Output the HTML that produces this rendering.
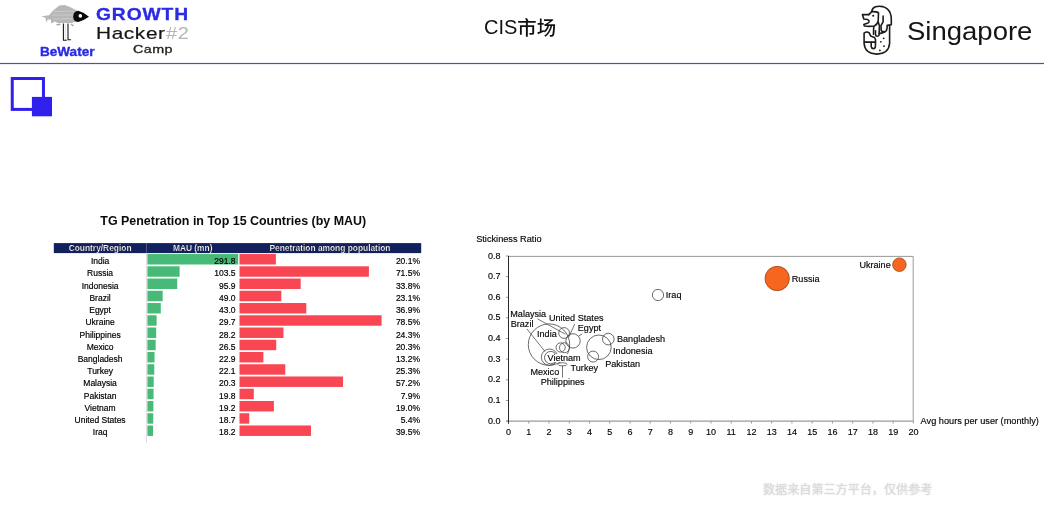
<!DOCTYPE html>
<html lang="zh"><head><meta charset="utf-8"><title>CIS市场</title>
<style>
html,body{margin:0;padding:0;background:#fff;}
body{width:1044px;height:513px;position:relative;overflow:hidden;font-family:"Liberation Sans","Noto Sans CJK SC",sans-serif;color:#111;}
.abs{position:absolute;white-space:nowrap;line-height:1;}
.t{position:absolute;white-space:nowrap;line-height:12px;font-size:8.5px;color:#000;-webkit-text-stroke:0.18px #000;}
.s{position:absolute;white-space:nowrap;line-height:10px;font-size:9px;color:#050505;-webkit-text-stroke:0.15px #050505;}
.bg{background:#fff;}
svg{position:absolute;left:0;top:0;}
svg text{font-family:"Liberation Sans","Noto Sans CJK SC",sans-serif;}
</style></head><body>

<svg width="1044" height="513" viewBox="0 0 1044 513">
<rect x="0" y="62.9" width="1044" height="1.2" fill="#574ca8"/>
<rect x="12.25" y="78.5" width="31.2" height="30.9" fill="none" stroke="#3020ee" stroke-width="3"/>
<rect x="31.9" y="96.9" width="20.1" height="19.4" fill="#3020ee"/>
<g id="fish">
<path d="M41.4 16.3 L49.1 15.3 L51.7 12 L56.4 7.7 L59.4 5.6 L64.6 5.1 L70 7 L74.9 9.4 L77.5 11.1 L77 21.5 L74 22 L72.3 22.9 L57.7 22.9 L54.7 21.4 L51.3 23.4 L50.8 19.5 L47.9 19.6 L46.1 22.5 L45.6 18 Z" fill="#b7b7b7"/>
<path d="M54 11.6 L75 11.2 M52 15.2 L75 15 M53 19 L75 18.7" stroke="#cfcfcf" stroke-width="0.8" fill="none"/>
<path d="M56.5 24.8 L60.5 24.2 M71 24 L73.5 26" stroke="#a8a8a8" stroke-width="1.6" fill="none"/>
<path d="M73.2 16.5 Q73.2 11.2 78.3 10.7 Q83.5 12 89 16.7 Q84 20.3 78.3 21.9 Q73.2 22 73.2 16.5 Z" fill="#0a0a0a"/>
<circle cx="80.3" cy="15.9" r="1.8" fill="#fff"/>
<path d="M65.2 24 V40" stroke="#ddd" stroke-width="1" fill="none"/>
<path d="M63.4 23.5 V40.2 H66.8 M68 23.5 V39.8 H71" stroke="#1a1a1a" stroke-width="1.1" fill="none"/>
</g>
<g fill="none" stroke="#1c1c1c" stroke-width="1.6" stroke-linecap="round" stroke-linejoin="round">
<path d="M868.8 14.6 L862.4 14.6 L863.8 19 L867.4 19.5 Q869.3 20.3 869.1 21.3 Q869 22.6 867.9 23.1 L863.8 24.5 L864.4 26 Q869 26.8 874.4 26 Q877.3 24.6 878.2 21 L878.5 12.8 Q877 11.5 872 11.6"/>
<path d="M868.8 14.6 L871.7 11.6 Q872.2 8 875.5 6.8 Q879 5.9 882.5 6.6 Q887.5 8 890 12.5 Q891.4 15.5 891.3 19.5 L891.3 24.8 L887.2 25.4 L887 28.5 Q886.6 31.6 884.3 31.9 Q881.6 31.8 881.1 30 L881.1 27 Q880.6 26 881.4 24.8 L883.1 21.9 L883.1 16"/>
<path d="M873.7 26.5 L873.5 34.2"/>
<path d="M878.3 22 Q880 26 879.3 29.5 L879.1 34.8 Q878.8 36.3 877.3 36.3 Q875.6 36.2 875.5 34.6 L875.5 30.7"/>
<path d="M879.3 33.6 Q882.5 33.2 884.8 31.8"/>
<path d="M889.6 25.4 L889.6 43.5 Q888.8 53.6 876.8 54.1 Q864.9 53.6 864.1 43.5 L864.1 33.2 Q866.5 31.2 869.1 32.7 L870.6 35.9 L874.4 37.4 L875.5 39.5 L875.5 42.1 L864.1 42.1"/>
<path d="M871.2 42.4 L871.2 46.5 Q871.6 48.6 873.3 48.6 Q875.2 48.6 875.4 46.6 L875.5 42.4"/>
</g>
<g fill="#1c1c1c">
<circle cx="873.2" cy="15.7" r="1.05"/>
<circle cx="883.7" cy="38.3" r="0.9"/><circle cx="880.8" cy="41.8" r="0.9"/><circle cx="884" cy="46.2" r="0.9"/><circle cx="879.9" cy="50.4" r="0.9"/>
</g>
<rect x="53.8" y="243.1" width="367.4" height="10" fill="#12205e"/>
<rect x="146.2" y="243.1" width="0.7" height="10" fill="#6872a6"/>
<rect x="146.3" y="253" width="0.7" height="190" fill="#d2d2d2"/>
<rect x="147.4" y="254.05" width="90.80" height="10.45" fill="#48ba77"/>
<rect x="239.5" y="254.05" width="36.38" height="10.45" fill="#f84753"/>
<rect x="147.4" y="266.30" width="32.21" height="10.45" fill="#48ba77"/>
<rect x="239.5" y="266.30" width="129.41" height="10.45" fill="#f84753"/>
<rect x="147.4" y="278.54" width="29.84" height="10.45" fill="#48ba77"/>
<rect x="239.5" y="278.54" width="61.18" height="10.45" fill="#f84753"/>
<rect x="147.4" y="290.79" width="15.25" height="10.45" fill="#48ba77"/>
<rect x="239.5" y="290.79" width="41.81" height="10.45" fill="#f84753"/>
<rect x="147.4" y="303.03" width="13.38" height="10.45" fill="#48ba77"/>
<rect x="239.5" y="303.03" width="66.79" height="10.45" fill="#f84753"/>
<rect x="147.4" y="315.27" width="9.24" height="10.45" fill="#48ba77"/>
<rect x="239.5" y="315.27" width="142.09" height="10.45" fill="#f84753"/>
<rect x="147.4" y="327.52" width="8.78" height="10.45" fill="#48ba77"/>
<rect x="239.5" y="327.52" width="43.98" height="10.45" fill="#f84753"/>
<rect x="147.4" y="339.76" width="8.25" height="10.45" fill="#48ba77"/>
<rect x="239.5" y="339.76" width="36.74" height="10.45" fill="#f84753"/>
<rect x="147.4" y="352.01" width="7.13" height="10.45" fill="#48ba77"/>
<rect x="239.5" y="352.01" width="23.89" height="10.45" fill="#f84753"/>
<rect x="147.4" y="364.25" width="6.88" height="10.45" fill="#48ba77"/>
<rect x="239.5" y="364.25" width="45.79" height="10.45" fill="#f84753"/>
<rect x="147.4" y="376.50" width="6.32" height="10.45" fill="#48ba77"/>
<rect x="239.5" y="376.50" width="103.53" height="10.45" fill="#f84753"/>
<rect x="147.4" y="388.75" width="6.16" height="10.45" fill="#48ba77"/>
<rect x="239.5" y="388.75" width="14.30" height="10.45" fill="#f84753"/>
<rect x="147.4" y="400.99" width="5.97" height="10.45" fill="#48ba77"/>
<rect x="239.5" y="400.99" width="34.39" height="10.45" fill="#f84753"/>
<rect x="147.4" y="413.24" width="5.82" height="10.45" fill="#48ba77"/>
<rect x="239.5" y="413.24" width="9.77" height="10.45" fill="#f84753"/>
<rect x="147.4" y="425.48" width="5.66" height="10.45" fill="#48ba77"/>
<rect x="239.5" y="425.48" width="71.50" height="10.45" fill="#f84753"/>
<path d="M508.5 256.4 H913.2 V421.1" fill="none" stroke="#9a9a9a" stroke-width="1"/>
<path d="M506.0 421.1 H913.4" fill="none" stroke="#9a9a9a" stroke-width="1.1"/>
<path d="M508.50 421.1 v2.4" stroke="#9a9a9a" stroke-width="1" fill="none"/>
<path d="M528.75 421.1 v2.4" stroke="#9a9a9a" stroke-width="1" fill="none"/>
<path d="M548.99 421.1 v2.4" stroke="#9a9a9a" stroke-width="1" fill="none"/>
<path d="M569.24 421.1 v2.4" stroke="#9a9a9a" stroke-width="1" fill="none"/>
<path d="M589.48 421.1 v2.4" stroke="#9a9a9a" stroke-width="1" fill="none"/>
<path d="M609.73 421.1 v2.4" stroke="#9a9a9a" stroke-width="1" fill="none"/>
<path d="M629.97 421.1 v2.4" stroke="#9a9a9a" stroke-width="1" fill="none"/>
<path d="M650.22 421.1 v2.4" stroke="#9a9a9a" stroke-width="1" fill="none"/>
<path d="M670.46 421.1 v2.4" stroke="#9a9a9a" stroke-width="1" fill="none"/>
<path d="M690.71 421.1 v2.4" stroke="#9a9a9a" stroke-width="1" fill="none"/>
<path d="M710.95 421.1 v2.4" stroke="#9a9a9a" stroke-width="1" fill="none"/>
<path d="M731.20 421.1 v2.4" stroke="#9a9a9a" stroke-width="1" fill="none"/>
<path d="M751.44 421.1 v2.4" stroke="#9a9a9a" stroke-width="1" fill="none"/>
<path d="M771.68 421.1 v2.4" stroke="#9a9a9a" stroke-width="1" fill="none"/>
<path d="M791.93 421.1 v2.4" stroke="#9a9a9a" stroke-width="1" fill="none"/>
<path d="M812.17 421.1 v2.4" stroke="#9a9a9a" stroke-width="1" fill="none"/>
<path d="M832.42 421.1 v2.4" stroke="#9a9a9a" stroke-width="1" fill="none"/>
<path d="M852.66 421.1 v2.4" stroke="#9a9a9a" stroke-width="1" fill="none"/>
<path d="M872.91 421.1 v2.4" stroke="#9a9a9a" stroke-width="1" fill="none"/>
<path d="M893.15 421.1 v2.4" stroke="#9a9a9a" stroke-width="1" fill="none"/>
<path d="M913.40 421.1 v2.4" stroke="#9a9a9a" stroke-width="1" fill="none"/>
<path d="M508.5 421.10 h-2.6" stroke="#9a9a9a" stroke-width="1" fill="none"/>
<path d="M508.5 400.46 h-2.6" stroke="#9a9a9a" stroke-width="1" fill="none"/>
<path d="M508.5 379.82 h-2.6" stroke="#9a9a9a" stroke-width="1" fill="none"/>
<path d="M508.5 359.18 h-2.6" stroke="#9a9a9a" stroke-width="1" fill="none"/>
<path d="M508.5 338.54 h-2.6" stroke="#9a9a9a" stroke-width="1" fill="none"/>
<path d="M508.5 317.90 h-2.6" stroke="#9a9a9a" stroke-width="1" fill="none"/>
<path d="M508.5 297.26 h-2.6" stroke="#9a9a9a" stroke-width="1" fill="none"/>
<path d="M508.5 276.62 h-2.6" stroke="#9a9a9a" stroke-width="1" fill="none"/>
<path d="M508.5 255.98 h-2.6" stroke="#9a9a9a" stroke-width="1" fill="none"/>
<path d="M508.5 255.9 V423.70000000000005" fill="none" stroke="#2a2a2a" stroke-width="1"/>
<ellipse cx="562.5" cy="364.3" rx="4.6" ry="1.6" fill="#fff" stroke="#3a3a3a" stroke-width="0.7"/>
<circle cx="549" cy="344.6" r="20.7" fill="none" stroke="#3a3a3a" stroke-width="0.75"/>
<circle cx="564.1" cy="333.0" r="5.4" fill="none" stroke="#3a3a3a" stroke-width="0.75"/>
<circle cx="573.0" cy="340.9" r="7.2" fill="none" stroke="#3a3a3a" stroke-width="0.75"/>
<circle cx="560.6" cy="347.5" r="4.6" fill="none" stroke="#3a3a3a" stroke-width="0.75"/>
<circle cx="564.5" cy="347.7" r="5.0" fill="none" stroke="#3a3a3a" stroke-width="0.75"/>
<circle cx="549.5" cy="357.2" r="8.2" fill="none" stroke="#3a3a3a" stroke-width="0.75"/>
<circle cx="550.7" cy="357.6" r="6.2" fill="none" stroke="#3a3a3a" stroke-width="0.75"/>
<circle cx="598.9" cy="347.3" r="12.3" fill="none" stroke="#3a3a3a" stroke-width="0.75"/>
<circle cx="608.3" cy="339.1" r="5.8" fill="none" stroke="#3a3a3a" stroke-width="0.75"/>
<circle cx="593.1" cy="356.6" r="5.5" fill="none" stroke="#3a3a3a" stroke-width="0.75"/>
<circle cx="658" cy="295" r="5.6" fill="none" stroke="#3a3a3a" stroke-width="0.75"/>
<circle cx="777.2" cy="278.5" r="12.2" fill="#f6661e" stroke="#8a3a10" stroke-width="0.7"/>
<circle cx="899.4" cy="264.7" r="6.8" fill="#f6661e" stroke="#8a3a10" stroke-width="0.7"/>
<path d="M537.5 318.9 L565.5 334.2 M526.9 328.9 L545 351.5 M574.7 324.1 L569 336.8 M582.2 333.8 L578.7 336 M562.5 365.5 V377.6" stroke="#3a3a3a" stroke-width="0.7" fill="none"/>
</svg>
<div class="abs" style="left:39.60px;top:44.98px;font-size:11.9px;line-height:14px;transform:scaleX(1.14);transform-origin:0 0;font-weight:bold;color:#2b2be4;-webkit-text-stroke:0.35px #2b2be4;">BeWater</div>
<div class="abs" style="left:95.60px;top:4.32px;font-size:16.4px;line-height:20px;transform:scaleX(1.175);transform-origin:0 0;font-weight:bold;color:#2b2be4;letter-spacing:0.75px;-webkit-text-stroke:0.3px #2b2be4;">GROWTH</div>
<div class="abs" style="left:96.00px;top:24.11px;font-size:17px;line-height:20px;transform:scaleX(1.225);transform-origin:0 0;color:#151515;letter-spacing:0.5px;-webkit-text-stroke:0.2px #151515;">Hacker</div>
<div class="abs" style="left:165.60px;top:24.25px;font-size:16.6px;line-height:20px;transform:scaleX(1.2);transform-origin:0 0;color:#b4b4b4;letter-spacing:0.6px;">#2</div>
<div class="abs" style="left:133.40px;top:43.22px;font-size:11.2px;line-height:13px;transform:scaleX(1.28);transform-origin:0 0;color:#222;letter-spacing:0.35px;-webkit-text-stroke:0.3px #222;">Camp</div>
<div class="abs" style="top:15.17px;font-size:20px;line-height:24px;left:484.00px;color:#111;">CIS<span style="position:relative;top:1px;font-size:19.4px;font-weight:500;">市场</span></div>
<div class="abs" style="left:907.40px;top:15.09px;font-size:26.3px;line-height:32px;transform:scaleX(1.046);transform-origin:0 0;color:#151515;">Singapore</div>
<div class="abs" style="top:214.19px;font-size:12.45px;line-height:15px;left:100.30px;font-weight:bold;color:#0a0a0a;">TG Penetration in Top 15 Countries (by MAU)</div>
<div class="t" style="left:53.8px;width:92.6px;top:242.4px;text-align:center;color:#fff;font-weight:bold;font-size:8.4px;">Country/Region</div>
<div class="t" style="left:146.4px;width:92.6px;top:242.4px;text-align:center;color:#fff;font-weight:bold;font-size:8.4px;">MAU (mn)</div>
<div class="t" style="left:239px;width:182px;top:242.4px;text-align:center;color:#fff;font-weight:bold;font-size:8.4px;">Penetration among population</div>
<div class="t" style="left:53.8px;width:92.6px;top:255.15px;text-align:center;">India</div>
<div class="t" style="left:180px;width:55.5px;top:255.15px;text-align:right;">291.8</div>
<div class="t" style="left:380px;width:40px;top:255.15px;text-align:right;">20.1%</div>
<div class="t" style="left:53.8px;width:92.6px;top:267.38px;text-align:center;">Russia</div>
<div class="t" style="left:180px;width:55.5px;top:267.38px;text-align:right;">103.5</div>
<div class="t" style="left:380px;width:40px;top:267.38px;text-align:right;">71.5%</div>
<div class="t" style="left:53.8px;width:92.6px;top:279.60px;text-align:center;">Indonesia</div>
<div class="t" style="left:180px;width:55.5px;top:279.60px;text-align:right;">95.9</div>
<div class="t" style="left:380px;width:40px;top:279.60px;text-align:right;">33.8%</div>
<div class="t" style="left:53.8px;width:92.6px;top:291.83px;text-align:center;">Brazil</div>
<div class="t" style="left:180px;width:55.5px;top:291.83px;text-align:right;">49.0</div>
<div class="t" style="left:380px;width:40px;top:291.83px;text-align:right;">23.1%</div>
<div class="t" style="left:53.8px;width:92.6px;top:304.06px;text-align:center;">Egypt</div>
<div class="t" style="left:180px;width:55.5px;top:304.06px;text-align:right;">43.0</div>
<div class="t" style="left:380px;width:40px;top:304.06px;text-align:right;">36.9%</div>
<div class="t" style="left:53.8px;width:92.6px;top:316.29px;text-align:center;">Ukraine</div>
<div class="t" style="left:180px;width:55.5px;top:316.29px;text-align:right;">29.7</div>
<div class="t" style="left:380px;width:40px;top:316.29px;text-align:right;">78.5%</div>
<div class="t" style="left:53.8px;width:92.6px;top:328.51px;text-align:center;">Philippines</div>
<div class="t" style="left:180px;width:55.5px;top:328.51px;text-align:right;">28.2</div>
<div class="t" style="left:380px;width:40px;top:328.51px;text-align:right;">24.3%</div>
<div class="t" style="left:53.8px;width:92.6px;top:340.74px;text-align:center;">Mexico</div>
<div class="t" style="left:180px;width:55.5px;top:340.74px;text-align:right;">26.5</div>
<div class="t" style="left:380px;width:40px;top:340.74px;text-align:right;">20.3%</div>
<div class="t" style="left:53.8px;width:92.6px;top:352.97px;text-align:center;">Bangladesh</div>
<div class="t" style="left:180px;width:55.5px;top:352.97px;text-align:right;">22.9</div>
<div class="t" style="left:380px;width:40px;top:352.97px;text-align:right;">13.2%</div>
<div class="t" style="left:53.8px;width:92.6px;top:365.19px;text-align:center;">Turkey</div>
<div class="t" style="left:180px;width:55.5px;top:365.19px;text-align:right;">22.1</div>
<div class="t" style="left:380px;width:40px;top:365.19px;text-align:right;">25.3%</div>
<div class="t" style="left:53.8px;width:92.6px;top:377.42px;text-align:center;">Malaysia</div>
<div class="t" style="left:180px;width:55.5px;top:377.42px;text-align:right;">20.3</div>
<div class="t" style="left:380px;width:40px;top:377.42px;text-align:right;">57.2%</div>
<div class="t" style="left:53.8px;width:92.6px;top:389.65px;text-align:center;">Pakistan</div>
<div class="t" style="left:180px;width:55.5px;top:389.65px;text-align:right;">19.8</div>
<div class="t" style="left:380px;width:40px;top:389.65px;text-align:right;">7.9%</div>
<div class="t" style="left:53.8px;width:92.6px;top:401.87px;text-align:center;">Vietnam</div>
<div class="t" style="left:180px;width:55.5px;top:401.87px;text-align:right;">19.2</div>
<div class="t" style="left:380px;width:40px;top:401.87px;text-align:right;">19.0%</div>
<div class="t" style="left:53.8px;width:92.6px;top:414.10px;text-align:center;">United States</div>
<div class="t" style="left:180px;width:55.5px;top:414.10px;text-align:right;">18.7</div>
<div class="t" style="left:380px;width:40px;top:414.10px;text-align:right;">5.4%</div>
<div class="t" style="left:53.8px;width:92.6px;top:426.33px;text-align:center;">Iraq</div>
<div class="t" style="left:180px;width:55.5px;top:426.33px;text-align:right;">18.2</div>
<div class="t" style="left:380px;width:40px;top:426.33px;text-align:right;">39.5%</div>
<div class="s" style="top:233.81px;font-size:9.2px;line-height:11px;left:476.20px;">Stickiness Ratio</div>
<div class="s" style="top:415.61px;font-size:9.2px;line-height:11px;left:920.60px;">Avg hours per user (monthly)</div>
<div class="s" style="top:415.68px;font-size:9px;line-height:11px;right:543.40px;text-align:right;">0.0</div>
<div class="s" style="top:395.04px;font-size:9px;line-height:11px;right:543.40px;text-align:right;">0.1</div>
<div class="s" style="top:374.40px;font-size:9px;line-height:11px;right:543.40px;text-align:right;">0.2</div>
<div class="s" style="top:353.76px;font-size:9px;line-height:11px;right:543.40px;text-align:right;">0.3</div>
<div class="s" style="top:333.12px;font-size:9px;line-height:11px;right:543.40px;text-align:right;">0.4</div>
<div class="s" style="top:312.48px;font-size:9px;line-height:11px;right:543.40px;text-align:right;">0.5</div>
<div class="s" style="top:291.84px;font-size:9px;line-height:11px;right:543.40px;text-align:right;">0.6</div>
<div class="s" style="top:271.20px;font-size:9px;line-height:11px;right:543.40px;text-align:right;">0.7</div>
<div class="s" style="top:250.56px;font-size:9px;line-height:11px;right:543.40px;text-align:right;">0.8</div>
<div class="s" style="top:426.58px;font-size:9px;line-height:11px;left:408.50px;width:200px;text-align:center;">0</div>
<div class="s" style="top:426.58px;font-size:9px;line-height:11px;left:428.75px;width:200px;text-align:center;">1</div>
<div class="s" style="top:426.58px;font-size:9px;line-height:11px;left:448.99px;width:200px;text-align:center;">2</div>
<div class="s" style="top:426.58px;font-size:9px;line-height:11px;left:469.24px;width:200px;text-align:center;">3</div>
<div class="s" style="top:426.58px;font-size:9px;line-height:11px;left:489.48px;width:200px;text-align:center;">4</div>
<div class="s" style="top:426.58px;font-size:9px;line-height:11px;left:509.73px;width:200px;text-align:center;">5</div>
<div class="s" style="top:426.58px;font-size:9px;line-height:11px;left:529.97px;width:200px;text-align:center;">6</div>
<div class="s" style="top:426.58px;font-size:9px;line-height:11px;left:550.22px;width:200px;text-align:center;">7</div>
<div class="s" style="top:426.58px;font-size:9px;line-height:11px;left:570.46px;width:200px;text-align:center;">8</div>
<div class="s" style="top:426.58px;font-size:9px;line-height:11px;left:590.71px;width:200px;text-align:center;">9</div>
<div class="s" style="top:426.58px;font-size:9px;line-height:11px;left:610.95px;width:200px;text-align:center;">10</div>
<div class="s" style="top:426.58px;font-size:9px;line-height:11px;left:631.20px;width:200px;text-align:center;">11</div>
<div class="s" style="top:426.58px;font-size:9px;line-height:11px;left:651.44px;width:200px;text-align:center;">12</div>
<div class="s" style="top:426.58px;font-size:9px;line-height:11px;left:671.68px;width:200px;text-align:center;">13</div>
<div class="s" style="top:426.58px;font-size:9px;line-height:11px;left:691.93px;width:200px;text-align:center;">14</div>
<div class="s" style="top:426.58px;font-size:9px;line-height:11px;left:712.17px;width:200px;text-align:center;">15</div>
<div class="s" style="top:426.58px;font-size:9px;line-height:11px;left:732.42px;width:200px;text-align:center;">16</div>
<div class="s" style="top:426.58px;font-size:9px;line-height:11px;left:752.66px;width:200px;text-align:center;">17</div>
<div class="s" style="top:426.58px;font-size:9px;line-height:11px;left:772.91px;width:200px;text-align:center;">18</div>
<div class="s" style="top:426.58px;font-size:9px;line-height:11px;left:793.15px;width:200px;text-align:center;">19</div>
<div class="s" style="top:426.58px;font-size:9px;line-height:11px;left:813.40px;width:200px;text-align:center;">20</div>
<div class="s" style="top:308.95px;font-size:9.1px;line-height:11px;left:510.30px;">Malaysia</div>
<div class="s" style="top:318.55px;font-size:9.1px;line-height:11px;left:510.70px;">Brazil</div>
<div class="s" style="top:313.15px;font-size:9.1px;line-height:11px;left:548.90px;">United States</div>
<div class="s" style="top:322.75px;font-size:9.1px;line-height:11px;left:577.80px;">Egypt</div>
<div class="s" style="top:329.05px;font-size:9.1px;line-height:11px;left:537.00px;">India</div>
<div class="s bg" style="top:353.55px;font-size:9.1px;line-height:8px;left:547.50px;">Vietnam</div>
<div class="s" style="top:362.95px;font-size:9.1px;line-height:11px;left:570.60px;">Turkey</div>
<div class="s" style="top:367.25px;font-size:9.1px;line-height:11px;left:530.40px;">Mexico</div>
<div class="s" style="top:377.05px;font-size:9.1px;line-height:11px;left:540.70px;">Philippines</div>
<div class="s" style="top:359.05px;font-size:9.1px;line-height:11px;left:605.20px;">Pakistan</div>
<div class="s" style="top:345.95px;font-size:9.1px;line-height:11px;left:613.10px;">Indonesia</div>
<div class="s" style="top:334.25px;font-size:9.1px;line-height:11px;left:617.00px;">Bangladesh</div>
<div class="s" style="top:289.75px;font-size:9.1px;line-height:11px;left:665.80px;">Iraq</div>
<div class="s" style="top:273.85px;font-size:9.1px;line-height:11px;left:791.80px;">Russia</div>
<div class="s" style="top:259.85px;font-size:9.1px;line-height:11px;left:859.40px;">Ukraine</div>
<div class="abs" style="left:763px;top:483.8px;font-size:12.1px;line-height:13px;font-weight:400;color:#dcdcdc;text-shadow:0 0 1.5px #cacaca;">数据来自第三方平台，仅供参考</div>
</body></html>
